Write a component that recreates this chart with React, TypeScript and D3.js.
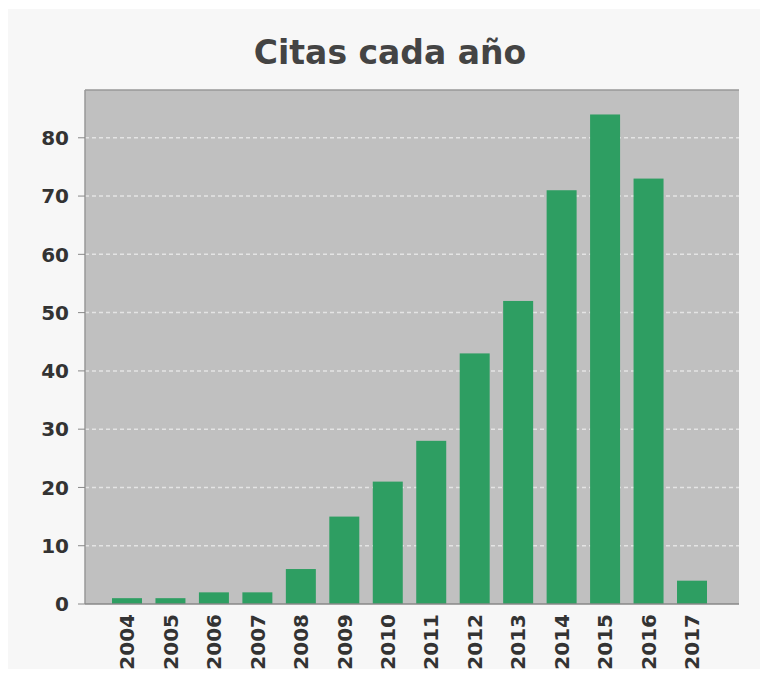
import React from "react";
import * as d3 from "d3";

const years = ["2004","2005","2006","2007","2008","2009","2010","2011","2012","2013","2014","2015","2016","2017"];
const citations = [1, 1, 2, 2, 6, 15, 21, 28, 43, 52, 71, 84, 73, 4];
const yTicks = [0, 10, 20, 30, 40, 50, 60, 70, 80];
const title = "Citas cada año";

export default function App() {
  const W = 768, H = 677;
  const plot = { left: 85, right: 739, top: 90, bottom: 604 };
  const x = d3.scaleBand<string>().domain(years).range([112, 707]).paddingInner(0.31).paddingOuter(0);
  const y = d3.scaleLinear().domain([0, 88.2]).range([plot.bottom, plot.top]);
  const tickFont = "'DejaVu Sans', sans-serif";
  return (
    <svg width={W} height={H} style={{ position: "absolute", left: 0, top: 0 }}>
      <rect x={0} y={0} width={W} height={H} fill="#ffffff" />
      <rect x={8} y={9} width={752} height={660} fill="#f7f7f7" />
      <text x={390} y={64} textAnchor="middle" fontFamily="'DejaVu Sans', sans-serif" fontWeight="bold" fontSize={33} fill="#444">{title}</text>
      <rect x={plot.left} y={plot.top} width={plot.right - plot.left} height={plot.bottom - plot.top} fill="#c0c0c0" />
      {yTicks.filter(t => t > 0).map(t => (
        <line key={t} x1={plot.left} x2={plot.right} y1={y(t)} y2={y(t)} stroke="#e4e4e4" strokeWidth={1.5} strokeDasharray="4,3" />
      ))}
      {years.map((yr, i) => (
        <rect key={yr} x={x(yr)} y={y(citations[i])} width={x.bandwidth()} height={plot.bottom - y(citations[i])} fill="#2e9e62" />
      ))}
      <line x1={plot.left} x2={plot.right} y1={plot.top} y2={plot.top} stroke="#999" strokeWidth={1.5} />
      <line x1={plot.left} x2={plot.left} y1={plot.top} y2={plot.bottom} stroke="#999" strokeWidth={1.5} />
      <line x1={plot.left} x2={plot.right} y1={plot.bottom} y2={plot.bottom} stroke="#888" strokeWidth={1.5} />
      {yTicks.map(t => (
        <g key={t}>
          <line x1={plot.left - 7} x2={plot.left} y1={y(t)} y2={y(t)} stroke="#888" />
          <text x={plot.left - 16} y={y(t)} dy="0.36em" textAnchor="end" fontFamily={tickFont} fontWeight="bold" fontSize={20} fill="#333">{t}</text>
        </g>
      ))}
      {years.map(yr => {
        const cx = (x(yr) as number) + x.bandwidth() / 2;
        return (
          <text key={yr} transform={`translate(${cx},${plot.bottom + 10}) rotate(-90)`} textAnchor="end" dy="0.36em" fontFamily={tickFont} fontWeight="bold" fontSize={20} fill="#333">{yr}</text>
        );
      })}
    </svg>
  );
}
